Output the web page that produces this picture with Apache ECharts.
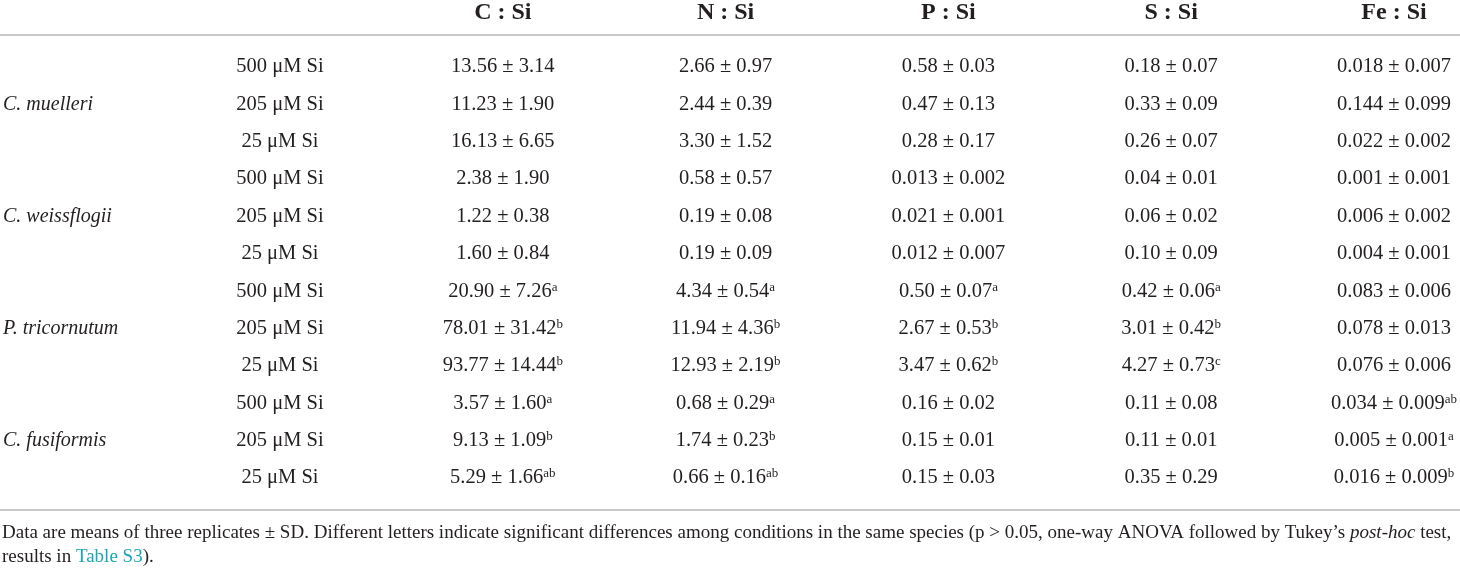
<!DOCTYPE html>
<html>
<head>
<meta charset="utf-8">
<script src="https://cdn.jsdelivr.net/npm/echarts@6/dist/echarts.min.js"></script>
<style>
  html, body { margin: 0; padding: 0; background: #fff; }
  #chart { width: 1460px; height: 569px; }
</style>
</head>
<body>
<div id="chart"></div>
<script>
// column headers (first column = Si condition, no header)
const ratioHeaders = ['', 'C : Si', 'N : Si', 'P : Si', 'S : Si', 'Fe : Si'];

// one entry per table row
const species = ['', 'C. muelleri', '', '', 'C. weissflogii', '', '', 'P. tricornutum', '', '', 'C. fusiformis', ''];
const conditions = ['500 μM Si', '205 μM Si', '25 μM Si', '500 μM Si', '205 μM Si', '25 μM Si',
  '500 μM Si', '205 μM Si', '25 μM Si', '500 μM Si', '205 μM Si', '25 μM Si'];

const cSi = ['13.56 ± 3.14', '11.23 ± 1.90', '16.13 ± 6.65', '2.38 ± 1.90', '1.22 ± 0.38', '1.60 ± 0.84',
  '20.90 ± 7.26', '78.01 ± 31.42', '93.77 ± 14.44', '3.57 ± 1.60', '9.13 ± 1.09', '5.29 ± 1.66'];
const cSiSig = ['', '', '', '', '', '', 'a', 'b', 'b', 'a', 'b', 'ab'];

const nSi = ['2.66 ± 0.97', '2.44 ± 0.39', '3.30 ± 1.52', '0.58 ± 0.57', '0.19 ± 0.08', '0.19 ± 0.09',
  '4.34 ± 0.54', '11.94 ± 4.36', '12.93 ± 2.19', '0.68 ± 0.29', '1.74 ± 0.23', '0.66 ± 0.16'];
const nSiSig = ['', '', '', '', '', '', 'a', 'b', 'b', 'a', 'b', 'ab'];

const pSi = ['0.58 ± 0.03', '0.47 ± 0.13', '0.28 ± 0.17', '0.013 ± 0.002', '0.021 ± 0.001', '0.012 ± 0.007',
  '0.50 ± 0.07', '2.67 ± 0.53', '3.47 ± 0.62', '0.16 ± 0.02', '0.15 ± 0.01', '0.15 ± 0.03'];
const pSiSig = ['', '', '', '', '', '', 'a', 'b', 'b', '', '', ''];

const sSi = ['0.18 ± 0.07', '0.33 ± 0.09', '0.26 ± 0.07', '0.04 ± 0.01', '0.06 ± 0.02', '0.10 ± 0.09',
  '0.42 ± 0.06', '3.01 ± 0.42', '4.27 ± 0.73', '0.11 ± 0.08', '0.11 ± 0.01', '0.35 ± 0.29'];
const sSiSig = ['', '', '', '', '', '', 'a', 'b', 'c', '', '', ''];

const feSi = ['0.018 ± 0.007', '0.144 ± 0.099', '0.022 ± 0.002', '0.001 ± 0.001', '0.006 ± 0.002', '0.004 ± 0.001',
  '0.083 ± 0.006', '0.078 ± 0.013', '0.076 ± 0.006', '0.034 ± 0.009', '0.005 ± 0.001', '0.016 ± 0.009'];
const feSiSig = ['', '', '', '', '', '', '', '', '', 'ab', 'a', 'b'];

const footLine1 = 'Data are means of three replicates ± SD. Different letters indicate significant differences among conditions in the same species (p > 0.05, one-way ANOVA followed by Tukey\u2019s ';
const footLine2 = 'results in ';

const SERIF = '"Liberation Serif", "DejaVu Serif", serif';
const INK = '#231f20';

// build cells: [column, row] -> rich text
const valueCols = [[cSi, cSiSig], [nSi, nSiSig], [pSi, pSiSig], [sSi, sSiSig], [feSi, feSiSig]];
const cells = [];
const cellText = [];
conditions.forEach((c, r) => {
  cells.push([0, r]);
  cellText.push(c);
  valueCols.forEach(([vals, sig], k) => {
    cells.push([k + 1, r]);
    cellText.push(sig[r] ? vals[r] + '{sup|' + sig[r] + '}' : vals[r]);
  });
});

const chart = echarts.init(document.getElementById('chart'), null, { renderer: 'canvas' });

chart.setOption({
  animation: false,
  backgroundColor: '#fff',
  grid: { left: 279, right: 66, top: 67, bottom: 91 },
  xAxis: {
    type: 'category',
    position: 'top',
    data: ratioHeaders,
    boundaryGap: false,
    axisLine: { show: false },
    axisTick: { show: false },
    splitLine: { show: false },
    axisLabel: {
      interval: 0,
      margin: 54,
      verticalAlign: 'middle',
      fontFamily: SERIF,
      fontWeight: 'bold',
      fontSize: 24,
      color: INK
    }
  },
  yAxis: {
    type: 'category',
    inverse: true,
    boundaryGap: false,
    data: species.map((s, i) => 'row' + i),
    axisLine: { show: false },
    axisTick: { show: false },
    splitLine: { show: false },
    axisLabel: {
      interval: 0,
      align: 'left',
      margin: 277,
      fontFamily: SERIF,
      fontStyle: 'italic',
      fontSize: 20,
      color: INK,
      formatter: (v, i) => species[i]
    }
  },
  series: [{
    type: 'custom',
    coordinateSystem: 'cartesian2d',
    data: cells,
    renderItem: (params, api) => {
      const p = api.coord([api.value(0), api.value(1)]);
      return {
        type: 'text',
        x: p[0],
        y: p[1],
        style: {
          text: cellText[params.dataIndex],
          fill: INK,
          font: '20.5px ' + SERIF,
          align: 'center',
          verticalAlign: 'middle',
          rich: {
            sup: { fontSize: 13, fontFamily: SERIF, fill: INK, verticalAlign: 'top', lineHeight: 20 }
          }
        }
      };
    }
  }],
  graphic: [
    { type: 'line', shape: { x1: 0, y1: 35, x2: 1460, y2: 35 }, style: { stroke: '#c9c9c9', lineWidth: 2 } },
    { type: 'line', shape: { x1: 0, y1: 510, x2: 1460, y2: 510 }, style: { stroke: '#c9c9c9', lineWidth: 2 } },
    {
      type: 'text', x: 2, y: 533,
      style: {
        text: footLine1 + '{i|post-hoc} test,',
        fill: INK, font: '19px ' + SERIF, verticalAlign: 'middle',
        rich: { i: { fontStyle: 'italic', fontSize: 19, fontFamily: SERIF, fill: INK } }
      }
    },
    {
      type: 'text', x: 2, y: 557,
      style: {
        text: footLine2 + '{a|Table S3}).',
        fill: INK, font: '19px ' + SERIF, verticalAlign: 'middle',
        rich: { a: { fontSize: 19, fontFamily: SERIF, fill: '#1aa6b8' } }
      }
    }
  ]
});
</script>
</body>
</html>
